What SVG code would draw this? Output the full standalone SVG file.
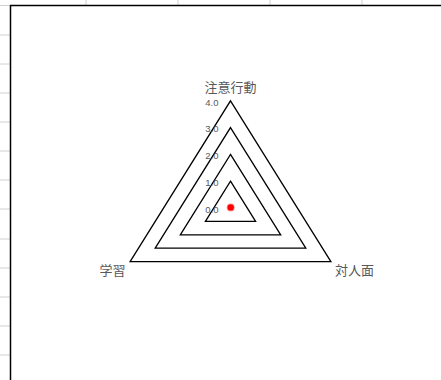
<svg xmlns="http://www.w3.org/2000/svg" width="441" height="380" viewBox="0 0 441 380">
<style>
.grid{stroke:#d0d0d0;stroke-width:1;fill:none}
.ring{fill:none;stroke:#000;stroke-width:1.3;stroke-linejoin:miter}
.tick{font-family:"Liberation Sans",Arial,sans-serif;font-size:9.5px;fill:#595959;text-anchor:end}
.cat{font-family:"Noto Sans CJK JP","Noto Sans",sans-serif;font-size:13px;fill:#595959}
</style>
<rect x="0" y="0" width="441" height="380" fill="#fff"/>
<g id="sheet-grid" class="grid">
<path d="M86 0V5M178 0V5M270 0V5M362 0V5"/>
<path d="M0 5.5H10M0 35H10M0 64H10M0 93H10M0 122H10M0 151H10M0 180H10M0 209H10M0 239H10M0 268H10M0 297H10M0 326H10M0 355H10"/>
</g>
<path id="chart-border" d="M10.5 380V5.5H441" fill="none" stroke="#000" stroke-width="1.5"/>
<g id="rings">
<polygon class="ring" points="230.5,181.2 255.6,221.4 205.4,221.4"/>
<polygon class="ring" points="230.5,154.4 280.7,234.8 180.3,234.8"/>
<polygon class="ring" points="230.5,127.6 305.8,248.2 155.2,248.2"/>
<polygon class="ring" points="230.5,100.8 330.9,261.6 130.1,261.6"/>
</g>
<g id="ticks">
<text class="tick" x="218.5" y="212.5">0.0</text>
<text class="tick" x="218.5" y="185.8">1.0</text>
<text class="tick" x="218.5" y="159.1">2.0</text>
<text class="tick" x="218.5" y="132.3">3.0</text>
<text class="tick" x="218.5" y="105.5">4.0</text>
</g>
<g id="categories">
<text class="cat" x="230.5" y="92" text-anchor="middle">注意行動</text>
<text class="cat" x="125.5" y="275" text-anchor="end">学習</text>
<text class="cat" x="335" y="275">対人面</text>
</g>
<g id="series">
<circle cx="230.7" cy="207.4" r="4" fill="#ff6060" opacity="0.6"/>
<circle cx="230.7" cy="207.4" r="3.2" fill="#ff0000"/>
</g>
</svg>
